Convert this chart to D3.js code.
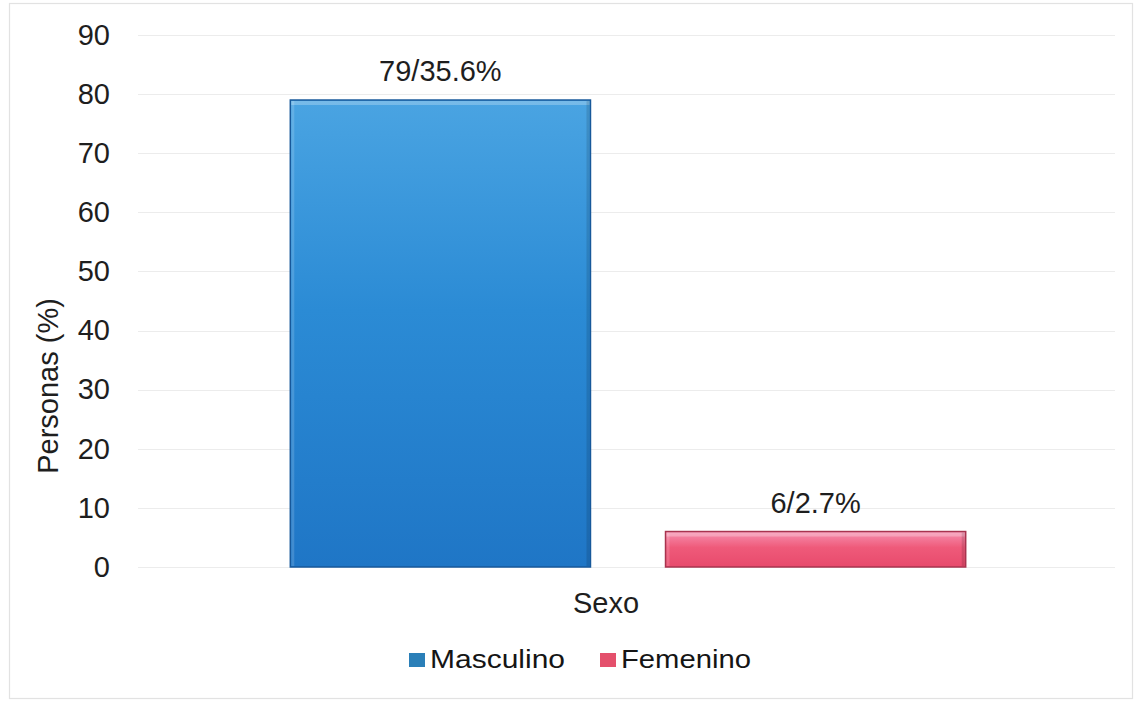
<!DOCTYPE html>
<html>
<head>
<meta charset="utf-8">
<script src="https://cdn.jsdelivr.net/npm/d3@7"></script>
<style>
  html, body { margin: 0; padding: 0; background: #fff; }
  svg { display: block; font-family: "Liberation Sans", Arial, sans-serif; }
</style>
</head>
<body>
<svg id="chart" width="1138" height="702"></svg>
<script>
// Data
const categories = ["Sexo"];
const seriesNames = ["Masculino", "Femenino"];
const seriesValues = [79, 6];
const seriesLabels = ["79/35.6%", "6/2.7%"];
const yTicks = [0, 10, 20, 30, 40, 50, 60, 70, 80, 90];

const colors = {
  Masculino: { top: "#4aa4e2", mid: "#2b8bd5", bottom: "#1f76c6", edge: "#17589a", legend: "#2a7fb8" },
  Femenino:  { top: "#f690b0", mid: "#ef5a7a", bottom: "#e84a6c", edge: "#a8344f", legend: "#e4506c" }
};

const svg = d3.select("#chart");
const W = 1138, H = 702;
const margin = { left: 138, right: 20, top: 35, bottom: 135 };
const plotW = W - margin.left - margin.right;
const plotH = H - margin.top - margin.bottom;
const FONT = 29;

// Outer chart frame
svg.append("rect")
  .attr("x", 9.5).attr("y", 3.5)
  .attr("width", W - 15).attr("height", H - 7)
  .attr("fill", "#fff").attr("stroke", "#e2e2e2").attr("stroke-width", 1.2);

const defs = svg.append("defs");
seriesNames.forEach((s, i) => {
  const g = defs.append("linearGradient")
    .attr("id", "grad" + i).attr("x1", 0).attr("y1", 0).attr("x2", 0).attr("y2", 1);
  g.append("stop").attr("offset", "0%").attr("stop-color", colors[s].top);
  g.append("stop").attr("offset", "45%").attr("stop-color", colors[s].mid);
  g.append("stop").attr("offset", "100%").attr("stop-color", colors[s].bottom);
});

const plot = svg.append("g").attr("transform", `translate(${margin.left},${margin.top})`);

const y = d3.scaleLinear().domain([0, 90]).range([plotH, 0]);
const x0 = d3.scaleBand().domain(categories).range([0, plotW]).padding(0.184);
const x1 = d3.scaleBand().domain(seriesNames).range([0, x0.bandwidth()]).paddingInner(0.2);

// Gridlines
plot.append("g").selectAll("line")
  .data(yTicks)
  .join("line")
  .attr("x1", 0).attr("x2", plotW - 3)
  .attr("y1", d => Math.round(y(d)) + 0.5).attr("y2", d => Math.round(y(d)) + 0.5)
  .attr("stroke", "#ececec").attr("stroke-width", 1);

// Y axis labels
const yAxis = plot.append("g")
  .call(d3.axisLeft(y).tickValues(yTicks).tickSize(0).tickPadding(28));
yAxis.select(".domain").remove();
yAxis.selectAll("text")
  .attr("font-size", FONT).attr("fill", "#1e1e1e")
  .attr("font-family", "'Liberation Sans', Arial, sans-serif");

// Bars
const bars = plot.append("g")
  .attr("transform", `translate(${x0(categories[0])},0)`);

seriesNames.forEach((s, i) => {
  const bx = x1(s), bw = x1.bandwidth();
  const by = y(seriesValues[i]), bh = y(0) - y(seriesValues[i]);
  const g = bars.append("g");
  g.append("rect")
    .attr("x", bx).attr("y", by).attr("width", bw).attr("height", bh)
    .attr("fill", `url(#grad${i})`)
    .attr("stroke", colors[s].edge).attr("stroke-width", 1.5);
  // bevel highlights along the top and left edges
  g.append("rect")
    .attr("x", bx + 1).attr("y", by + 1).attr("width", bw - 2).attr("height", Math.min(4, bh - 2))
    .attr("fill", "#ffffff").attr("opacity", 0.25);
  g.append("rect")
    .attr("x", bx + 1).attr("y", by + 1).attr("width", 3).attr("height", bh - 2)
    .attr("fill", "#ffffff").attr("opacity", 0.15);
  g.append("rect")
    .attr("x", bx + bw - 4).attr("y", by + 1).attr("width", 3).attr("height", bh - 2)
    .attr("fill", "#000").attr("opacity", 0.12);
  // value label
  g.append("text")
    .attr("x", bx + bw / 2).attr("y", by - 19)
    .attr("text-anchor", "middle")
    .attr("font-size", FONT).attr("fill", "#1e1e1e")
    .text(seriesLabels[i]);
});

// Category label
plot.append("text")
  .attr("x", x0(categories[0]) + x0.bandwidth() / 2 - 22)
  .attr("y", plotH + 46)
  .attr("text-anchor", "middle")
  .attr("font-size", FONT).attr("fill", "#1e1e1e")
  .text(categories[0]);

// Y axis title
svg.append("text")
  .attr("transform", `translate(58,${margin.top + plotH / 2 + 85}) rotate(-90)`)
  .attr("text-anchor", "middle")
  .attr("font-size", FONT).attr("fill", "#1e1e1e")
  .text("Personas (%)");

// Legend
const legend = svg.append("g").attr("transform", "translate(409,668)");
const legendX = [0, 191];
const legendTextW = [135, 130];
seriesNames.forEach((s, i) => {
  const lg = legend.append("g").attr("transform", `translate(${legendX[i]},0)`);
  lg.append("rect")
    .attr("x", 0).attr("y", -15).attr("width", 16).attr("height", 14)
    .attr("fill", colors[s].legend);
  lg.append("text")
    .attr("x", 21).attr("y", 0)
    .attr("font-size", 25).attr("fill", "#151515")
    .attr("textLength", legendTextW[i]).attr("lengthAdjust", "spacingAndGlyphs")
    .text(s);
});
</script>
</body>
</html>
